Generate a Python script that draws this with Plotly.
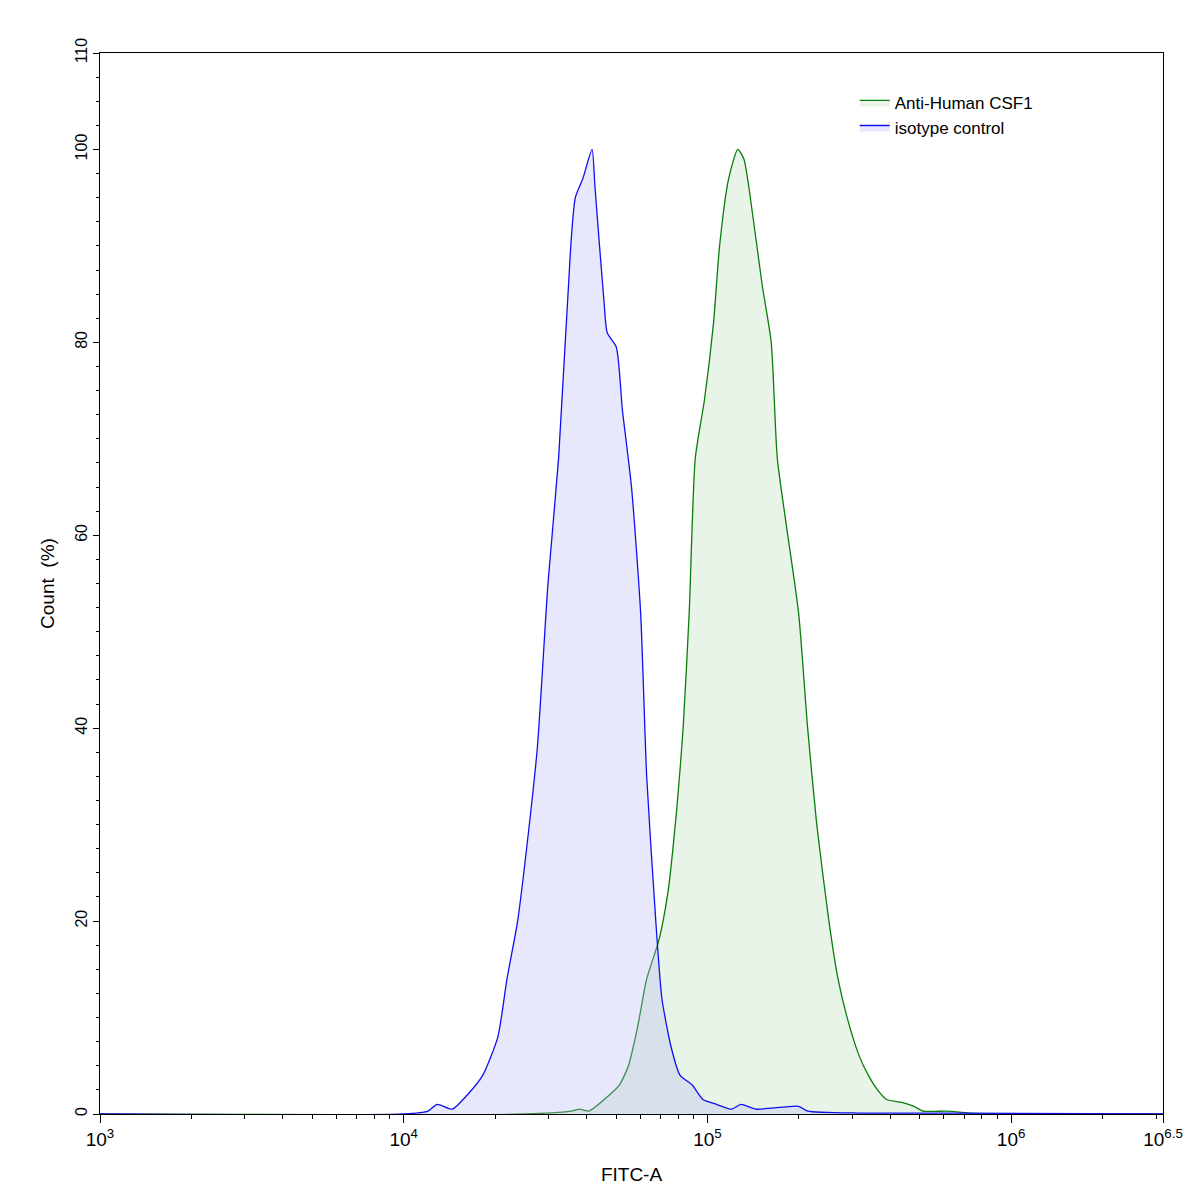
import numpy as np
import plotly.graph_objects as go

# log10(FITC-A) positions and Count (%)
iso_log = [3.0, 4.0, 4.08, 4.11, 4.16, 4.21, 4.26, 4.31, 4.34, 4.375, 4.41, 4.44, 4.475,
           4.51, 4.55, 4.565, 4.59, 4.62, 4.63, 4.66, 4.67, 4.70, 4.72, 4.75, 4.78, 4.80,
           4.83, 4.85, 4.88, 4.91, 4.95, 4.985, 5.03, 5.08, 5.11, 5.16, 5.30, 5.33, 5.50,
           5.66, 5.83, 6.5]
iso_val = [0, 0, 0.3, 1.0, 0.5, 2, 4, 8, 14, 20, 29, 38, 55,
           68, 90, 95, 97, 100, 96, 84, 81, 79.5, 73, 65, 52, 35,
           20, 12, 7, 4, 3, 1.5, 1.0, 0.5, 1.0, 0.5, 0.8, 0.3, 0.1,
           0.1, 0.1, 0]

csf_log = [3.0, 4.4, 4.55, 4.58, 4.61, 4.66, 4.71, 4.74, 4.77, 4.80, 4.84, 4.87, 4.90,
           4.92, 4.94, 4.96, 4.99, 5.02, 5.04, 5.07, 5.10, 5.12, 5.15, 5.18, 5.21, 5.23,
           5.26, 5.30, 5.33, 5.36, 5.40, 5.43, 5.46, 5.50, 5.53, 5.56, 5.59, 5.64, 5.68,
           5.71, 5.79, 5.86, 5.96, 6.5]
csf_val = [0, 0, 0.3, 0.5, 0.3, 1.5, 3, 5, 9, 14, 18, 23, 32,
           40, 52, 68, 74, 82, 90, 97, 100, 99, 93, 86, 80, 68,
           61, 52, 40, 30, 20, 14, 10, 6, 4, 2.5, 1.5, 1.2, 0.8,
           0.3, 0.3, 0.1, 0, 0]

x_major = [1e3, 1e4, 1e5, 1e6, 10 ** 6.5]
x_labels = ["10<sup>3</sup>", "10<sup>4</sup>", "10<sup>5</sup>", "10<sup>6</sup>", "10<sup>6.5</sup>"]
y_major = [0, 20, 40, 60, 80, 100, 110]

x_minor = [m * 10 ** d for d in range(3, 7) for m in range(2, 10) if m * 10 ** d < 10 ** 6.5]
y_minor = list(np.arange(0, 110.1, 2.5))

fig = go.Figure()
fig.add_trace(go.Scatter(
    x=[10 ** v for v in csf_log], y=csf_val, name="Anti-Human CSF1", mode="lines",
    line=dict(color="#0a7d0a", width=1.3, shape="spline", smoothing=0.6),
    fill="tozeroy", fillcolor="rgba(200,228,200,0.4)",
))
fig.add_trace(go.Scatter(
    x=[10 ** v for v in iso_log], y=iso_val, name="isotype control", mode="lines",
    line=dict(color="#1010ee", width=1.3, shape="spline", smoothing=0.6),
    fill="tozeroy", fillcolor="rgba(180,180,245,0.3)",
))

fig.update_layout(
    width=1197, height=1193, plot_bgcolor="white", paper_bgcolor="white",
    margin=dict(l=92, r=42, t=45, b=87),
    font=dict(family="Liberation Sans, Arial", size=16, color="black"),
    legend=dict(x=0.71, y=0.97, xanchor="left", yanchor="top", bgcolor="rgba(0,0,0,0)",
                font=dict(size=17), tracegroupgap=2),
    showlegend=True,
)
fig.update_xaxes(
    type="log", range=[3, 6.5], tickvals=x_major, ticktext=x_labels, automargin=False,
    ticks="outside", ticklen=8, tickcolor="black", showline=True, linecolor="black",
    mirror=True, showgrid=False, zeroline=False, title=dict(text="FITC-A", standoff=18),
    tickfont=dict(size=19),
    minor=dict(tickvals=x_minor, ticks="outside", ticklen=4, tickcolor="black", showgrid=False),
)
fig.update_yaxes(
    range=[0, 110], tickvals=y_major, tickangle=-90, automargin=False,
    tickfont=dict(size=16),
    ticks="outside", ticklen=6, tickcolor="black", showline=True, linecolor="black",
    mirror=True, showgrid=False, zeroline=False, title=dict(text="Count  (%)", standoff=12),
    minor=dict(tickvals=y_minor, ticks="outside", ticklen=3, tickcolor="black", showgrid=False),
)
fig.write_html("out.html")
